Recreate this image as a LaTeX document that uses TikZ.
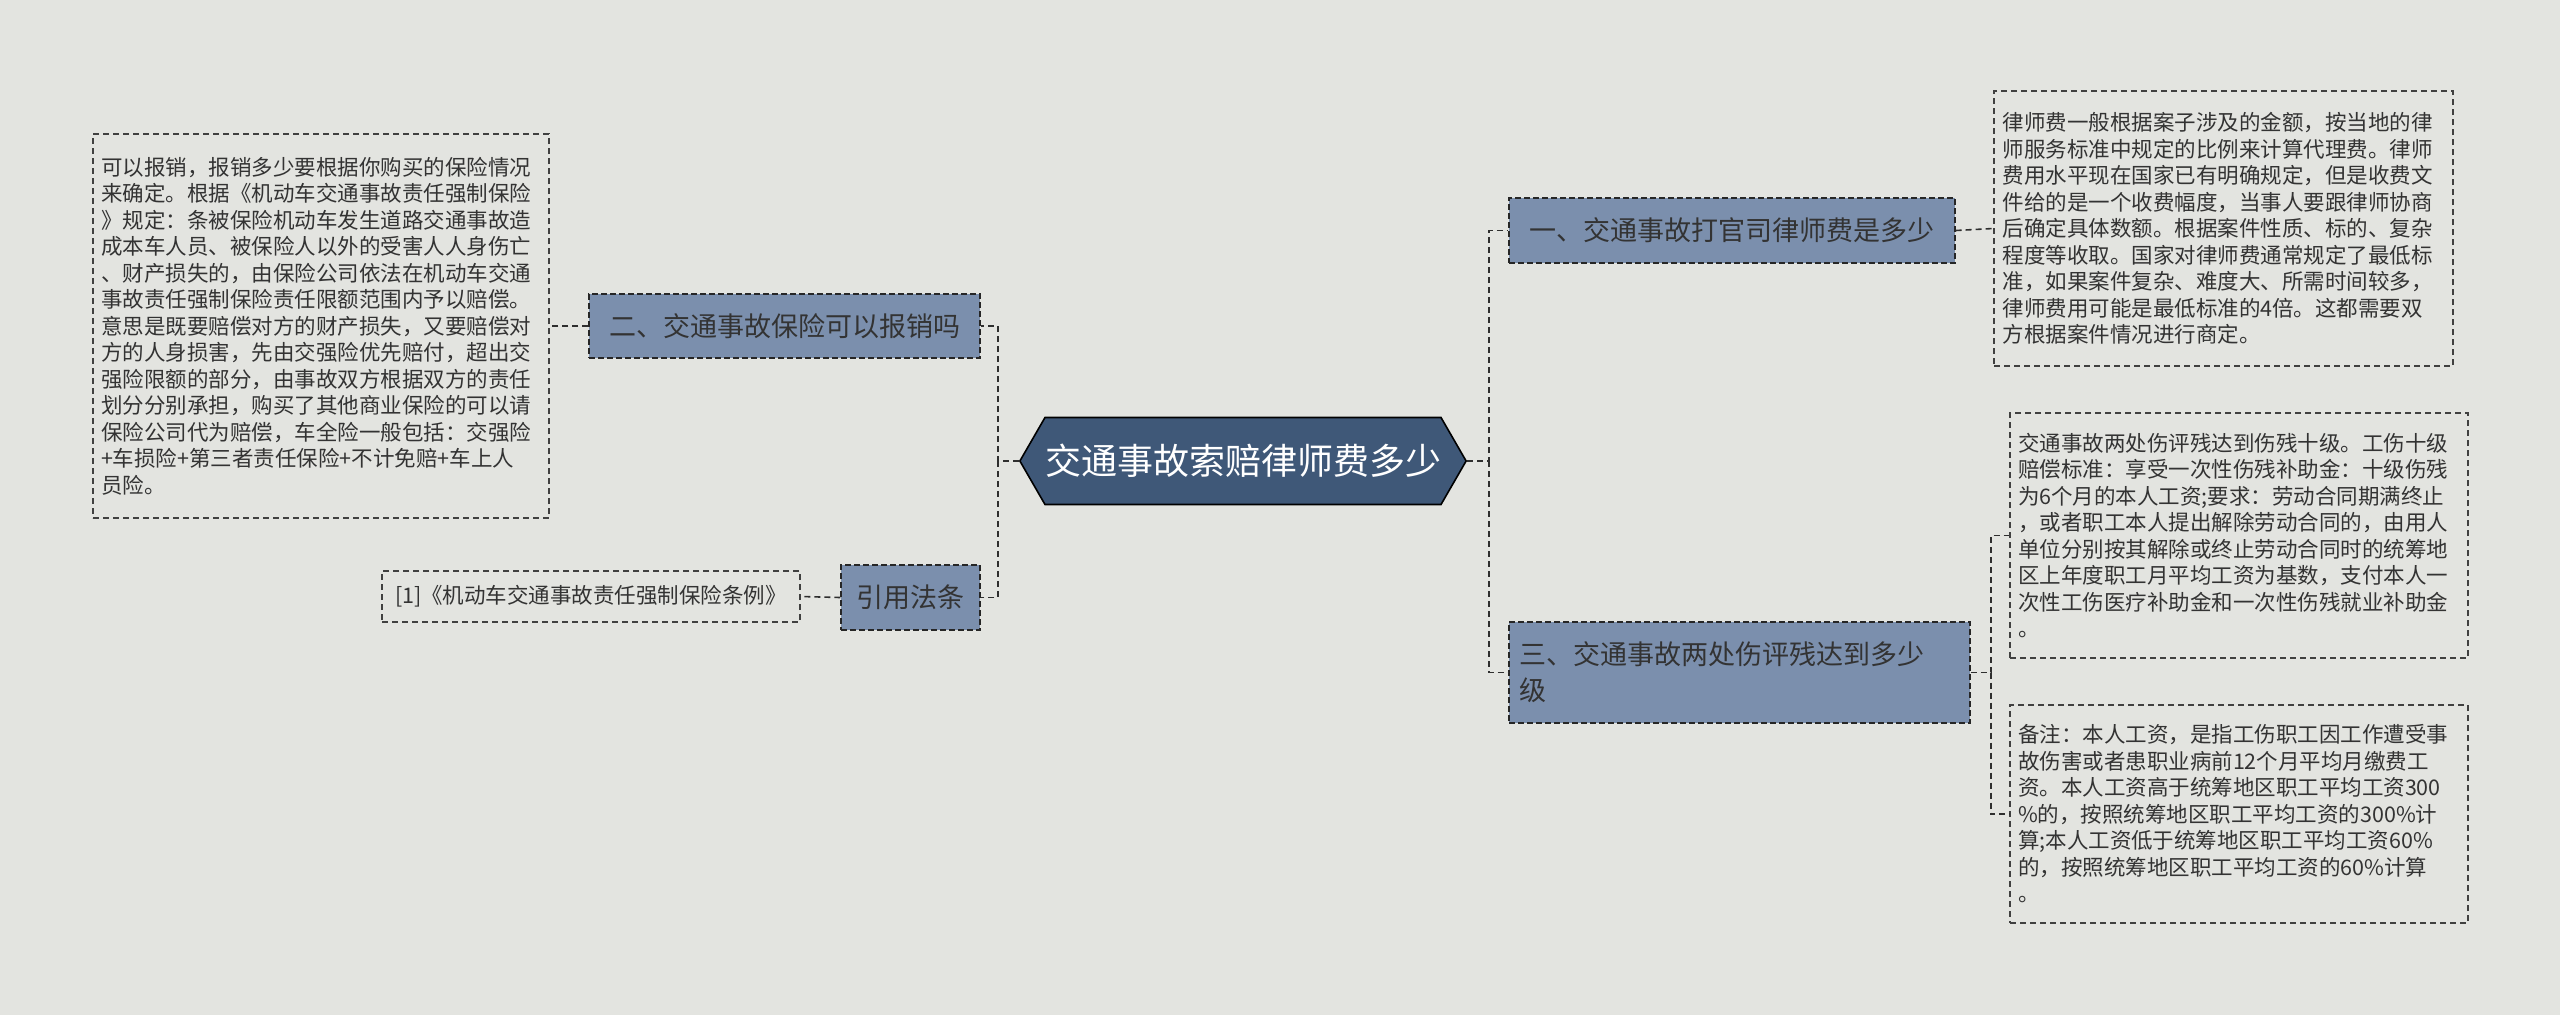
\documentclass[tikz,border=0pt]{standalone}
\usepackage{fontspec}
\setmainfont{Noto Sans CJK SC}
\usetikzlibrary{shapes.symbols}
\definecolor{bg}{HTML}{E3E4E0}
\definecolor{branch}{HTML}{7B8FAD}
\definecolor{centerc}{HTML}{3F5878}
\definecolor{txt}{HTML}{333333}
\tikzset{
  conn/.style={draw=txt!90!black,dashed,line width=1.6pt,dash pattern=on 6pt off 4pt},
  branchbox/.style={draw=black!85,dashed,dash pattern=on 6pt off 3pt,line width=1.4pt,fill=branch,text=txt,inner sep=0pt,align=left,font=\fontsize{27}{36}\selectfont},
  textbox/.style={draw=black!75,dashed,dash pattern=on 6pt off 4pt,line width=1.3pt,fill=bg,text=txt,inner sep=0pt,align=left,font=\fontsize{21.5}{26.5}\selectfont},
}
\begin{document}
\begin{tikzpicture}[x=1pt,y=-1pt]
\useasboundingbox[fill=bg] (0,0) rectangle (2560,1015);
% center
\node[signal,signal to=east and west,signal pointer angle=120,draw=black,line width=1.6pt,fill=centerc,text=white,minimum width=446pt,minimum height=87pt,inner sep=0pt,font=\fontsize{36}{40}\selectfont] (center) at (1243,461) {交通事故索赔律师费多少};
% left
\node[branchbox,minimum width=391pt,minimum height=64pt,align=center] (b2) at (784.5,326) {二、交通事故保险可以报销吗};
\node[textbox,minimum width=456pt,minimum height=384pt,text width=440pt] (t2) at (321,326) {可以报销，报销多少要根据你购买的保险情况\\来确定。根据《机动车交通事故责任强制保险\\》规定：条被保险机动车发生道路交通事故造\\成本车人员、被保险人以外的受害人人身伤亡\\、财产损失的，由保险公司依法在机动车交通\\事故责任强制保险责任限额范围内予以赔偿。\\意思是既要赔偿对方的财产损失，又要赔偿对\\方的人身损害，先由交强险优先赔付，超出交\\强险限额的部分，由事故双方根据双方的责任\\划分分别承担，购买了其他商业保险的可以请\\保险公司代为赔偿，车全险一般包括：交强险\\+车损险+第三者责任保险+不计免赔+车上人\\员险。};
\node[branchbox,minimum width=139pt,minimum height=65pt,align=center] (yin) at (910.5,597.5) {引用法条};
\node[textbox,minimum width=418pt,minimum height=51pt,align=center] (ref) at (591,596.5) {[1]《机动车交通事故责任强制保险条例》};
% right
\node[branchbox,minimum width=446pt,minimum height=65pt,align=center] (b1) at (1732,230.5) {一、交通事故打官司律师费是多少};
\node[textbox,minimum width=459pt,minimum height=275pt,text width=442pt] (t1) at (2223.5,228.5) {律师费一般根据案子涉及的金额，按当地的律\\师服务标准中规定的比例来计算代理费。律师\\费用水平现在国家已有明确规定，但是收费文\\件给的是一个收费幅度，当事人要跟律师协商\\后确定具体数额。根据案件性质、标的、复杂\\程度等收取。国家对律师费通常规定了最低标\\准，如果案件复杂、难度大、所需时间较多，\\律师费用可能是最低标准的4倍。这都需要双\\方根据案件情况进行商定。};
\node[branchbox,minimum width=461pt,minimum height=101pt,text width=441pt] (b3) at (1739.5,672.5) {三、交通事故两处伤评残达到多少\\级};
\node[textbox,minimum width=458pt,minimum height=245pt,text width=442pt] (tA) at (2239,535.5) {交通事故两处伤评残达到伤残十级。工伤十级\\赔偿标准：享受一次性伤残补助金：十级伤残\\为6个月的本人工资;要求：劳动合同期满终止\\，或者职工本人提出解除劳动合同的，由用人\\单位分别按其解除或终止劳动合同时的统筹地\\区上年度职工月平均工资为基数，支付本人一\\次性工伤医疗补助金和一次性伤残就业补助金\\。};
\node[textbox,minimum width=458pt,minimum height=218pt,text width=442pt] (tB) at (2239,814) {备注：本人工资，是指工伤职工因工作遭受事\\故伤害或者患职业病前12个月平均月缴费工\\资。本人工资高于统筹地区职工平均工资300\\\%的，按照统筹地区职工平均工资的300\%计\\算;本人工资低于统筹地区职工平均工资60\%\\的，按照统筹地区职工平均工资的60\%计算\\。};
% connectors
\draw[conn] (center.west) -- ++(-21,0) coordinate (lt) |- (b2.east);
\draw[conn] (lt) |- (yin.east);
\draw[conn] (b2.west) -- (t2.east);
\draw[conn] (yin.west) -- (ref.east);
\draw[conn] (center.east) -- ++(22,0) coordinate (rt) |- (b1.west);
\draw[conn] (rt) |- (b3.west);
\draw[conn] (b1.east) -- (t1.west);
\draw[conn] (b3.east) -- ++(20,0) coordinate (r3) |- (tA.west);
\draw[conn] (r3) |- (tB.west);
\end{tikzpicture}
\end{document}
